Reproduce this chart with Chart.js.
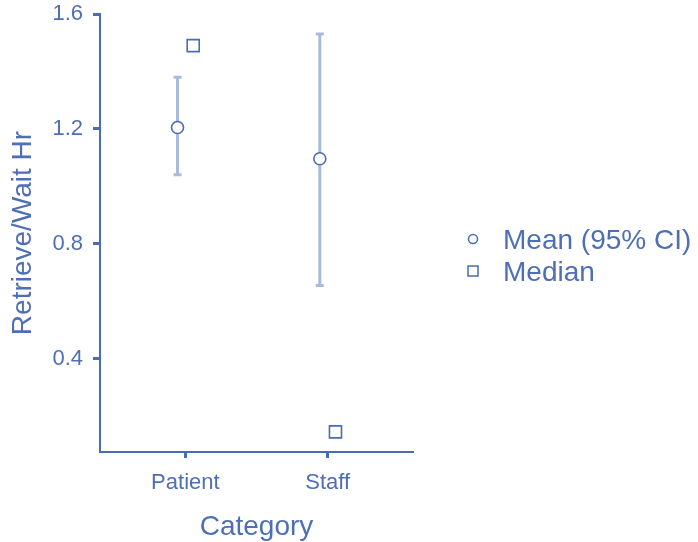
<!DOCTYPE html>
<html>
<head>
<meta charset="utf-8">
<script src="https://cdn.jsdelivr.net/npm/chart.js@4/dist/chart.umd.min.js"></script>
<style>
  html, body { margin: 0; padding: 0; background: #ffffff; }
  #wrap { width: 698px; height: 542px; }
</style>
</head>
<body>
<div id="wrap"><canvas id="chart" width="698" height="542"></canvas></div>
<script>
// Retrieve/Wait hours by staff category: mean with 95% CI, plus median
const categories = ['Patient', 'Staff'];
const meanValues = [1.205, 1.096];
const ciLower = [1.04, 0.655];
const ciUpper = [1.38, 1.53];
const medianValues = [1.49, 0.145];
const yTickValues = [0.4, 0.8, 1.2, 1.6];

const AXIS = '#4a6cb3';
const TEXT = '#4e6fb6';
const BAR = '#a9badc';
const FONT = '"Liberation Sans", Arial, sans-serif';
const SHIFT = 0.055; // side-by-side offset of mean and median within a category

// Vertical confidence-interval bars with small caps behind the mean markers
const ciBars = {
  id: 'ciBars',
  beforeDatasetsDraw(chart) {
    const { ctx, scales: { x, y } } = chart;
    ctx.save();
    ctx.strokeStyle = BAR;
    ctx.lineWidth = 3;
    ctx.lineCap = 'butt';
    categories.forEach((c, i) => {
      const px = x.getPixelForValue(i + 1 - SHIFT);
      const top = y.getPixelForValue(ciUpper[i]);
      const bot = y.getPixelForValue(ciLower[i]);
      ctx.beginPath();
      ctx.moveTo(px, top);
      ctx.lineTo(px, bot);
      ctx.moveTo(px - 4, top);
      ctx.lineTo(px + 4, top);
      ctx.moveTo(px - 4, bot);
      ctx.lineTo(px + 4, bot);
      ctx.stroke();
    });
    ctx.restore();
  }
};

// Legend to the right of the plot: marker symbol followed by label
const sideLegend = {
  id: 'sideLegend',
  afterDraw(chart) {
    const { ctx, chartArea } = chart;
    const mx = chartArea.right + 60;
    const tx = chartArea.right + 90;
    const rows = [239, 271];
    ctx.save();
    ctx.font = '28px ' + FONT;
    ctx.textBaseline = 'middle';
    chart.data.datasets.forEach((ds, i) => {
      const yy = rows[i];
      ctx.strokeStyle = ds.borderColor;
      ctx.lineWidth = 1.5;
      ctx.fillStyle = '#ffffff';
      ctx.beginPath();
      if (ds.pointStyle === 'circle') {
        ctx.arc(mx, yy, 4.5, 0, Math.PI * 2);
      } else {
        ctx.rect(mx - 5, yy - 5, 10, 10);
      }
      ctx.fill();
      ctx.stroke();
      ctx.fillStyle = TEXT;
      ctx.fillText(ds.label, tx, yy + 2);
    });
    ctx.restore();
  }
};

new Chart(document.getElementById('chart'), {
  type: 'scatter',
  data: {
    datasets: [
      {
        label: 'Mean (95% CI)',
        data: meanValues.map((v, i) => ({ x: i + 1 - SHIFT, y: v })),
        pointStyle: 'circle',
        pointRadius: 6,
        pointHoverRadius: 6,
        backgroundColor: '#ffffff',
        borderColor: AXIS,
        pointBorderWidth: 1.6
      },
      {
        label: 'Median',
        data: medianValues.map((v, i) => ({ x: i + 1 + SHIFT, y: v })),
        pointStyle: 'rect',
        pointRadius: 8.5,
        pointHoverRadius: 8.5,
        backgroundColor: '#ffffff',
        borderColor: AXIS,
        pointBorderWidth: 1.6
      }
    ]
  },
  options: {
    responsive: false,
    animation: false,
    layout: { padding: { top: 14, right: 285, bottom: 0, left: 0 } },
    plugins: {
      legend: { display: false },
      tooltip: { enabled: false }
    },
    scales: {
      x: {
        type: 'linear',
        min: 0.4,
        max: 2.6,
        afterBuildTicks: (s) => { s.ticks = categories.map((c, i) => ({ value: i + 1 })); },
        afterFit: (s) => { s.height = 90; s.paddingLeft = 0; s.paddingRight = 0; },
        ticks: {
          color: TEXT,
          font: { family: FONT, size: 22 },
          padding: 12,
          maxRotation: 0,
          callback: (v) => categories[v - 1]
        },
        grid: {
          display: true,
          drawOnChartArea: false,
          drawTicks: true,
          tickLength: 6,
          tickWidth: 3,
          tickColor: AXIS
        },
        border: { display: true, color: AXIS, width: 2 },
        title: {
          display: true,
          text: 'Category',
          color: TEXT,
          font: { family: FONT, size: 28 },
          padding: { top: 6, bottom: -2 }
        }
      },
      y: {
        type: 'linear',
        min: 0.075,
        max: 1.6,
        afterBuildTicks: (s) => { s.ticks = yTickValues.map(v => ({ value: v })); },
        afterFit: (s) => { s.width = 100; s.paddingTop = 0; s.paddingBottom = 0; },
        ticks: {
          color: TEXT,
          font: { family: FONT, size: 22 },
          padding: 10,
          callback: (v) => v.toFixed(1)
        },
        grid: {
          display: true,
          drawOnChartArea: false,
          drawTicks: true,
          tickLength: 7,
          tickWidth: 3,
          tickColor: AXIS
        },
        border: { display: true, color: AXIS, width: 2 },
        title: {
          display: true,
          text: 'Retrieve/Wait Hr',
          color: TEXT,
          font: { family: FONT, size: 28 },
          padding: { top: 6, bottom: 0 }
        }
      }
    }
  },
  plugins: [ciBars, sideLegend]
});
</script>
</body>
</html>
